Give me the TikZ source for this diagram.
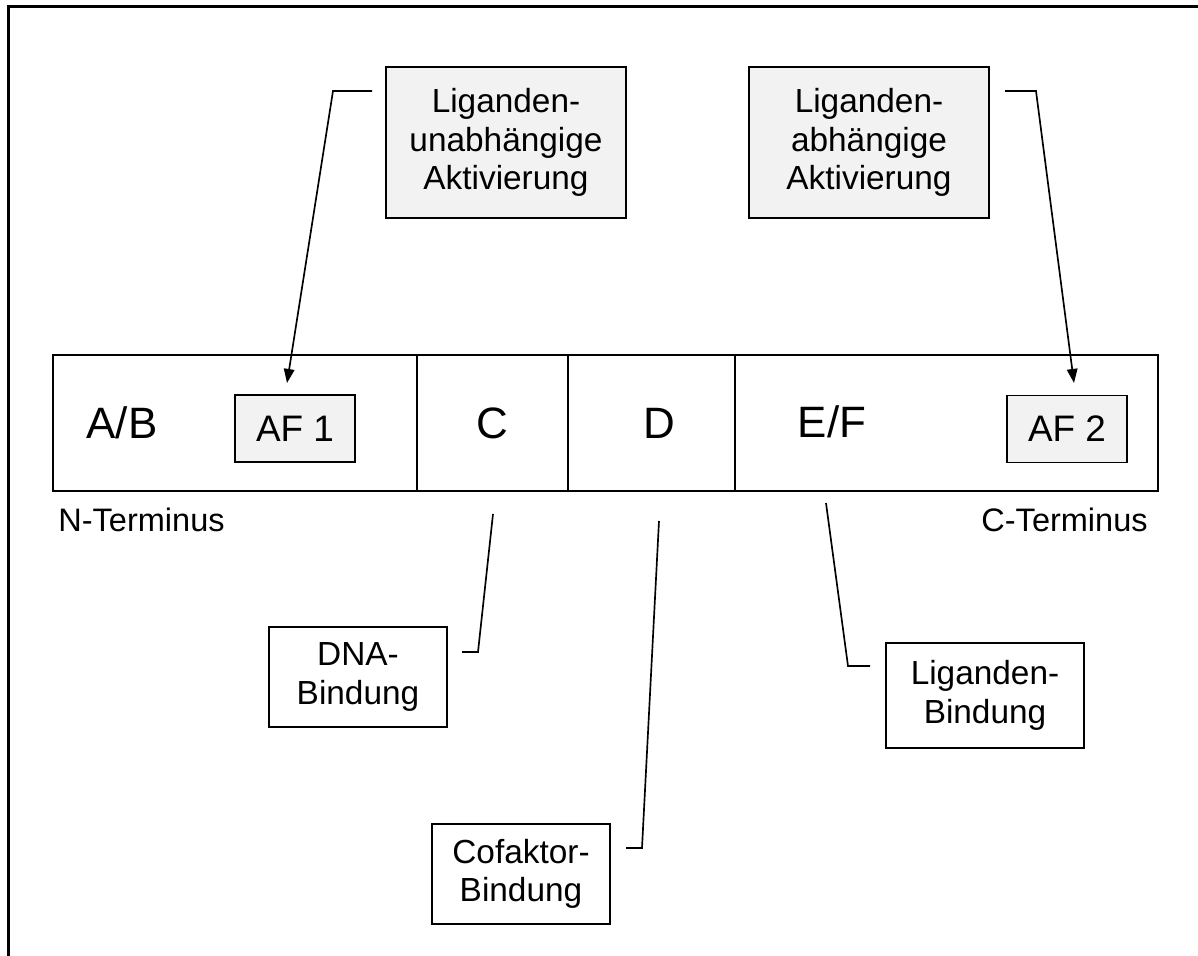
\documentclass[tikz,border=0pt]{standalone}
\usepackage{fontspec}
\setmainfont{Liberation Sans}
\usetikzlibrary{arrows.meta}
\tikzset{>=latex}

\begin{document}
\begin{tikzpicture}[x=0.02cm,y=-0.02cm,line width=1.1pt,
  every node/.style={inner sep=0pt,align=center},
  box/.style={draw,font=\fontsize{19}{21.8}\selectfont},
  shadebox/.style={box,fill=black!5},
  seg/.style={draw,minimum height=2.72cm},
  domlabel/.style={font=\fontsize{25}{29}\selectfont},
  aflabel/.style={shadebox,minimum width=2.4cm,minimum height=1.34cm,
    font=\fontsize{21}{25}\selectfont},
  link/.style={line width=0.95pt},
  pointer/.style={link,-{Triangle[length=8pt,width=6pt]}}]
\useasboundingbox (0,0) rectangle (1198,956);
% frame
\draw[line width=1.4pt] (8.5,956) -- (8.5,6.5) -- (1198,6.5);

% domains
\node[seg,minimum width=7.28cm] (ab) at (235,423) {};
\node[seg,minimum width=3.02cm] (c) at (492.5,423) {};
\node[seg,minimum width=3.34cm] (d) at (651.5,423) {};
\node[seg,minimum width=8.46cm] (ef) at (946.5,423) {};
\node[domlabel] (ablab) at (122,423) {A/B};
\node[domlabel] (clab) at (492,423) {C};
\node[domlabel] (dlab) at (659,423) {D};
\node[domlabel] (eflab) at (832,422) {E/F};
\node[aflabel] (af1) at (295,428.5) {AF 1};
\node[aflabel] (af2) at (1067,429) {AF 2};
\node[font=\fontsize{18.5}{21.8}\selectfont] (nterm) at (141.5,520) {N-Terminus};
\node[font=\fontsize{18.5}{21.8}\selectfont] (cterm) at (1064.5,520) {C-Terminus};

% activation
\node[shadebox,minimum width=4.8cm,minimum height=3.02cm] (unab) at (506,142.5)
  {Liganden-\\unabhängige\\Aktivierung};
\node[shadebox,minimum width=4.8cm,minimum height=3.02cm] (abh) at (869,142.5)
  {Liganden-\\abhängige\\Aktivierung};

% binding
\node[box,minimum width=3.56cm,minimum height=2cm] (dna) at (358,677) {DNA-\\Bindung};
\node[box,minimum width=3.56cm,minimum height=2cm] (cof) at (521,874) {Cofaktor-\\Bindung};
\node[box,minimum width=3.96cm,minimum height=2.1cm] (lig) at (985,695.5) {Liganden-\\Bindung};

% connectors
\coordinate (unab0) at (372,91);
\coordinate (unab1) at (333,91);
\coordinate (unab2) at (287,383);
\draw[pointer] (unab0) -- (unab1) -- (unab2);
\coordinate (abh0) at (1005,91);
\coordinate (abh1) at (1036,91);
\coordinate (abh2) at (1074,383);
\draw[pointer] (abh0) -- (abh1) -- (abh2);
\coordinate (dna0) at (493,514);
\coordinate (dna1) at (478,652);
\coordinate (dna2) at (462,652);
\draw[link] (dna0) -- (dna1) -- (dna2);
\coordinate (cof0) at (659,521);
\coordinate (cof1) at (642,848);
\coordinate (cof2) at (626,848);
\draw[link] (cof0) -- (cof1) -- (cof2);
\coordinate (lig0) at (826,503);
\coordinate (lig1) at (848,666);
\coordinate (lig2) at (870,666);
\draw[link] (lig0) -- (lig1) -- (lig2);
\end{tikzpicture}
\end{document}
